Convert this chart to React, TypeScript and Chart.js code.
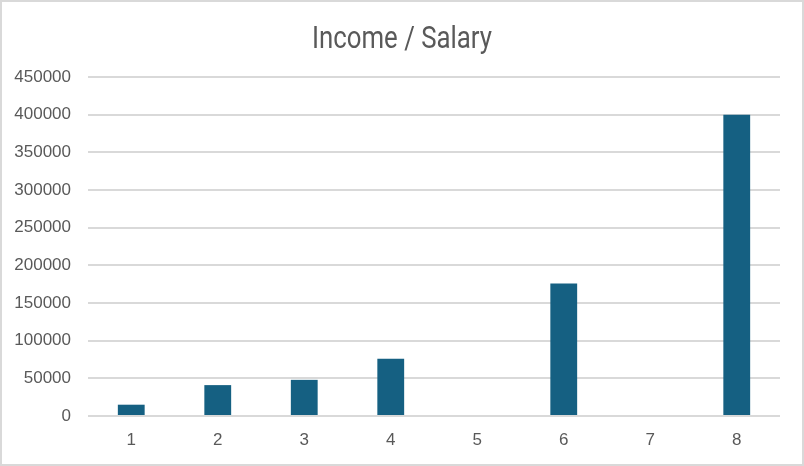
import React, { useEffect, useRef } from "react";
import { Chart, registerables } from "chart.js";

Chart.register(...registerables);

const categories: string[] = ["1", "2", "3", "4", "5", "6", "7", "8"];
const salaryValues: number[] = [15000, 41000, 48000, 76000, 0, 176000, 0, 400000];
const chartTitle = "Income / Salary";

const decorPlugin = {
  id: "decor",
  beforeDraw(chart: any) {
    const { ctx, width, height } = chart;
    ctx.save();
    ctx.fillStyle = "#ffffff";
    ctx.fillRect(0, 0, width, height);
    ctx.restore();
  },
  afterDraw(chart: any) {
    const { ctx, width, height } = chart;
    ctx.save();
    ctx.fillStyle = "#595959";
    ctx.font = "normal 31px Roboto";
    ctx.textAlign = "center";
    ctx.textBaseline = "alphabetic";
    const w = ctx.measureText(chartTitle).width;
    const sx = 180 / w;
    ctx.translate(width / 2, 48);
    ctx.scale(sx, 1);
    ctx.fillText(chartTitle, 0, 0);
    ctx.restore();
    ctx.save();
    ctx.strokeStyle = "#d9d9d9";
    ctx.lineWidth = 2;
    ctx.strokeRect(1, 1, width - 2, height - 2);
    ctx.restore();
  },
};

export default function App() {
  const ref = useRef<HTMLCanvasElement>(null);
  useEffect(() => {
    document.body.style.margin = "0";
    const chart = new Chart(ref.current!, {
      type: "bar",
      data: {
        labels: categories,
        datasets: [
          {
            label: chartTitle,
            data: salaryValues,
            backgroundColor: "#156082",
            barPercentage: 0.62,
            categoryPercentage: 0.5,
          },
        ],
      },
      options: {
        animation: false,
        responsive: false,
        maintainAspectRatio: false,
        layout: { padding: { left: 0, right: 24, top: 77, bottom: 0 } },
        plugins: {
          legend: { display: false },
          tooltip: { enabled: false },
          title: { display: false },
        },
        scales: {
          x: {
            grid: { display: false, drawTicks: false },
            border: { display: false },
            ticks: {
              color: "#595959",
              font: { family: "Liberation Sans", size: 17 },
              padding: 14,
            },
            afterFit(scale: any) {
              scale.height = 50;
            },
          },
          y: {
            min: 0,
            max: 450000,
            grid: { color: "#d9d9d9", lineWidth: 2, drawTicks: false },
            border: { display: false },
            ticks: {
              stepSize: 50000,
              color: "#595959",
              font: { family: "Liberation Sans", size: 17 },
              padding: 17,
              callback: (v: any) => String(v),
            },
            afterFit(scale: any) {
              scale.width = 88;
            },
          },
        },
      },
      plugins: [decorPlugin],
    });
    return () => chart.destroy();
  }, []);
  return (
    <div style={{ width: 804, height: 466 }}>
      <canvas ref={ref} width={804} height={466} />
    </div>
  );
}
